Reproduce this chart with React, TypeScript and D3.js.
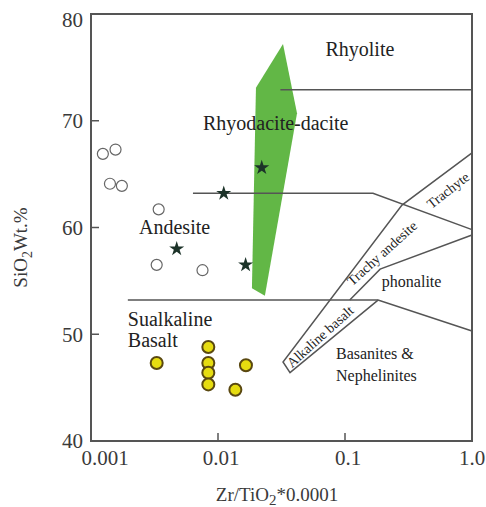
import React from "react";
import * as d3 from "d3";

// tick values and labels
const xTicks = [0.001, 0.01, 0.1, 1];
const xTickLabels = ["0.001", "0.01", "0.1", "1.0"];
const yTicks = [40, 50, 60, 70, 80];

// open circles (andesite / dacite samples)
const openX = [0.00124, 0.00156, 0.00141, 0.00175, 0.00341, 0.00329, 0.00755];
const openY = [66.9, 67.3, 64.1, 63.9, 61.7, 56.5, 56.0];

// stars
const starX = [0.0221, 0.0111, 0.00473, 0.0165];
const starY = [65.6, 63.2, 58.0, 56.5];

// yellow circles (basalt samples)
const basaltX = [0.00329, 0.00839, 0.00839, 0.00839, 0.00839, 0.0166, 0.0137];
const basaltY = [47.3, 48.8, 47.3, 46.4, 45.3, 47.1, 44.8];

// green field
const fieldX = [0.0325, 0.0419, 0.0234, 0.0185, 0.0199];
const fieldY = [77.2, 70.7, 53.6, 54.3, 73.1];

// field boundaries (Zr/TiO2, SiO2)
const boundaries: [number, number][][] = [
  [[0.031, 72.9], [1, 72.9]],
  [[0.00635, 63.2], [0.166, 63.2], [1, 59.8]],
  [[0.00195, 53.2], [0.182, 53.2], [1, 50.3]],
  [[1, 67.0], [0.281, 62.1], [0.0325, 47.4], [0.0369, 46.4], [0.182, 53.2]],
  [[1, 59.3], [0.189, 56.1], [0.109, 53.2]],
];

const W = 486;
const H = 507;
const left = 91;
const right = 472;
const top = 14;
const bottom = 441;

export default function App() {
  const x = d3.scaleLog().domain([0.001, 1]).range([left, right]);
  const y = d3.scaleLinear().domain([40, 80]).range([bottom, top]);
  const line = d3
    .line<[number, number]>()
    .x((d) => x(d[0]))
    .y((d) => y(d[1]));
  const area = d3
    .line<[number, number]>()
    .x((d) => x(d[0]))
    .y((d) => y(d[1]))
    .curve(d3.curveLinearClosed);

  const field = fieldX.map((v, i) => [v, fieldY[i]] as [number, number]);
  const star = d3.symbol().type(d3.symbolStar).size(70)();

  const serif = "Liberation Serif, DejaVu Serif, Times New Roman, serif";
  const txt = "#222";
  const gray = "#555";

  const rot = (xv: number, yv: number, a: number) =>
    `translate(${x(xv)},${y(yv)}) rotate(${a})`;

  return (
    <svg
      width={W}
      height={H}
      style={{ position: "absolute", left: 0, top: 0, background: "#fff", fontFamily: serif }}
    >
      {/* green field */}
      <path d={area(field) || ""} fill="#62b746" stroke="none" />

      {/* boundaries */}
      {boundaries.map((b, i) => (
        <path key={i} d={line(b) || ""} fill="none" stroke={gray} strokeWidth={1.5} />
      ))}

      {/* frame */}
      <rect
        x={left}
        y={top}
        width={right - left}
        height={bottom - top}
        fill="none"
        stroke={gray}
        strokeWidth={2}
      />

      {/* y ticks */}
      {yTicks.map((t) => (
        <g key={t}>
          {t > 40 && t < 80 && (
            <line x1={left} x2={left + 8} y1={y(t)} y2={y(t)} stroke={gray} strokeWidth={1.5} />
          )}
          <text
            x={left - 8}
            y={y(t)}
            dy={t === 80 ? "0.6em" : "0.35em"}
            textAnchor="end"
            fontSize={21}
            fill="#3a3a3a"
          >
            {t}
          </text>
        </g>
      ))}

      {/* x ticks */}
      {xTicks.map((t, i) => (
        <g key={t}>
          {i > 0 && i < xTicks.length - 1 && (
            <line x1={x(t)} x2={x(t)} y1={bottom} y2={bottom - 8} stroke={gray} strokeWidth={1.5} />
          )}
          <text
            x={x(t) + (i === 0 ? 14 : i === 3 ? 0 : 3)}
            y={bottom + 24}
            textAnchor="middle"
            fontSize={21}
            fill="#3a3a3a"
          >
            {xTickLabels[i]}
          </text>
        </g>
      ))}

      {/* axis titles */}
      <text
        transform={`translate(27,${(top + bottom) / 2 + 20}) rotate(-90)`}
        textAnchor="middle"
        fontSize={19}
        fill="#3a3a3a"
      >
        SiO<tspan dy={5} fontSize={14}>2</tspan>
        <tspan dy={-5}>Wt.%</tspan>
      </text>
      <text x={277} y={501} textAnchor="middle" fontSize={19} fill="#3a3a3a">
        Zr/TiO<tspan dy={4} fontSize={15}>2</tspan>
        <tspan dy={-4}>*0.0001</tspan>
      </text>

      {/* field labels */}
      <text x={x(0.131)} y={y(76.1)} textAnchor="middle" fontSize={20} fill={txt}>
        Rhyolite
      </text>
      <text x={x(0.00762)} y={y(69.1)} fontSize={20} fill={txt}>
        Rhyodacite-dacite
      </text>
      <text x={x(0.00239)} y={y(59.4)} fontSize={20} fill={txt}>
        Andesite
      </text>
      <text x={x(0.00195)} y={y(50.8)} fontSize={20} fill={txt}>
        Sualkaline
      </text>
      <text x={x(0.00195)} y={y(48.8)} fontSize={20} fill={txt}>
        Basalt
      </text>
      <text x={x(0.0849)} y={y(47.7)} fontSize={16} fill={txt}>
        Basanites &amp;
      </text>
      <text x={x(0.0849)} y={y(45.6)} fontSize={16} fill={txt}>
        Nephelinites
      </text>
      <text x={x(0.195)} y={y(54.4)} fontSize={16} fill={txt}>
        phonalite
      </text>
      <text transform={rot(0.647, 63.5, -38)} textAnchor="middle" dy="0.35em" fontSize={14} fill={txt}>
        Trachyte
      </text>
      <text transform={rot(0.195, 57.6, -42)} textAnchor="middle" dy="0.35em" fontSize={14} fill={txt}>
        Trachy andesite
      </text>
      <text transform={rot(0.0635, 49.8, -42)} textAnchor="middle" dy="0.35em" fontSize={14} fill={txt}>
        Alkaline basalt
      </text>

      {/* open circles */}
      {openX.map((v, i) => (
        <circle key={i} cx={x(v)} cy={y(openY[i])} r={5.5} fill="#fff" stroke="#666" strokeWidth={1.2} />
      ))}

      {/* stars */}
      {starX.map((v, i) => (
        <path key={i} d={star || ""} transform={`translate(${x(v)},${y(starY[i])})`} fill="#1c3329" />
      ))}

      {/* basalt circles */}
      {basaltX.map((v, i) => (
        <circle
          key={i}
          cx={x(v)}
          cy={y(basaltY[i])}
          r={6}
          fill="#e6dc10"
          stroke="#5a4810"
          strokeWidth={2}
        />
      ))}
    </svg>
  );
}
